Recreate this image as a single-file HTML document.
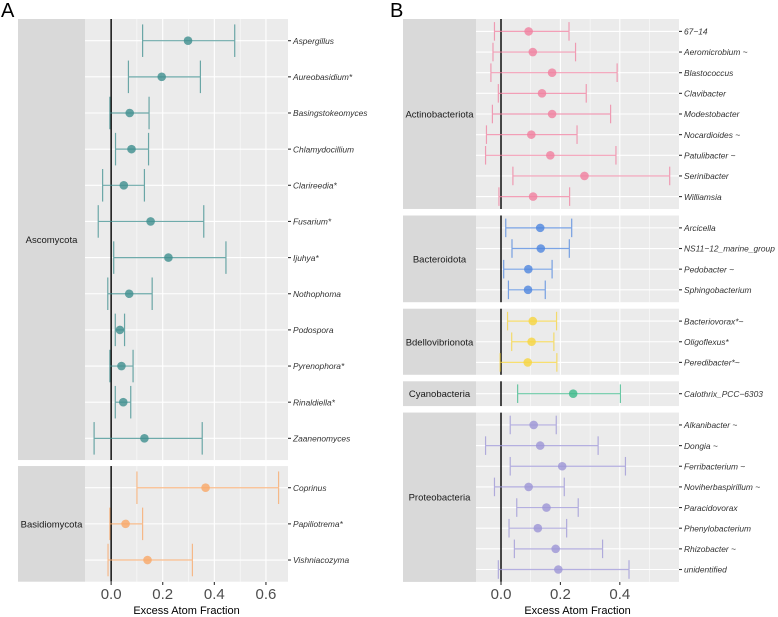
<!DOCTYPE html>
<html><head><meta charset="utf-8"><style>
body{margin:0;background:#fff;}
svg{display:block;font-family:"Liberation Sans",Arial,sans-serif;}
</style></head><body>
<svg id="chart" width="778" height="617" viewBox="0 0 778 617"></svg>
<script>
// Panel A data
const aGroups=["Ascomycota","Basidiomycota"];
const aGenera=[["Aspergillus","Aureobasidium*","Basingstokeomyces","Chlamydocillium","Clarireedia*","Fusarium*","Ijuhya*","Nothophoma","Podospora","Pyrenophora*","Rinaldiella*","Zaanenomyces"],["Coprinus","Papiliotrema*","Vishniacozyma"]];
const aMean=[[0.298,0.196,0.072,0.079,0.049,0.153,0.222,0.070,0.034,0.040,0.047,0.129],[0.366,0.056,0.141]];
const aLow=[[0.122,0.067,-0.005,0.017,-0.033,-0.050,0.010,-0.013,0.016,-0.005,0.016,-0.066],[0.100,-0.005,-0.012]];
const aHigh=[[0.479,0.346,0.147,0.145,0.129,0.359,0.445,0.159,0.052,0.085,0.076,0.353],[0.649,0.122,0.315]];
const aColors=["#3f8f8f","#f9a868"];
const aTicks=[0.0,0.2,0.4,0.6];
// Panel B data
const bGroups=["Actinobacteriota","Bacteroidota","Bdellovibrionota","Cyanobacteria","Proteobacteria"];
const bGenera=[["67\u221214","Aeromicrobium ~","Blastococcus","Clavibacter","Modestobacter","Nocardioides ~","Patulibacter ~","Serinibacter","Williamsia"],["Arcicella","NS11\u221212_marine_group","Pedobacter ~","Sphingobacterium"],["Bacteriovorax*~","Oligoflexus*","Peredibacter*~"],["Calothrix_PCC\u22126303"],["Alkanibacter ~","Dongia ~","Ferribacterium ~","Noviherbaspirillum ~","Paracidovorax","Phenylobacterium","Rhizobacter ~","unidentified"]];
const bMean=[[0.093,0.107,0.172,0.138,0.172,0.102,0.166,0.281,0.108],[0.132,0.134,0.092,0.091],[0.107,0.103,0.090],[0.243],[0.110,0.132,0.206,0.093,0.153,0.124,0.184,0.193]];
const bLow=[[-0.022,-0.027,-0.034,-0.009,-0.029,-0.049,-0.052,0.040,-0.007],[0.016,0.037,0.009,0.025],[0.022,0.036,-0.003],[0.056],[0.031,-0.052,0.031,-0.022,0.053,0.027,0.045,-0.009]];
const bHigh=[[0.229,0.251,0.391,0.287,0.369,0.256,0.387,0.568,0.231],[0.238,0.230,0.172,0.149],[0.187,0.178,0.188],[0.402],[0.186,0.327,0.419,0.213,0.260,0.221,0.342,0.431]];
const bColors=["#f0809f","#4f86de","#f6d53f","#3cb98a","#9c95d6"];
const bTicks=[0.0,0.2,0.4];

const NS="http://www.w3.org/2000/svg";
const svg=document.getElementById('chart');
function mk(tag,attrs,parent,text){const e=document.createElementNS(NS,tag);for(const k in attrs)e.setAttribute(k,attrs[k]);if(text!==undefined)e.textContent=text;(parent||svg).appendChild(e);return e;}

function panel(cfg){
  const sx=v=>cfg.x0+(v-cfg.xmin)/(cfg.xmax-cfg.xmin)*(cfg.x1-cfg.x0);
  let y=cfg.top;
  cfg.groups.forEach((g,gi)=>{
    const n=cfg.genera[gi].length;
    const h=(n-1+1.2)*cfg.unit;
    const grp=mk('g',{});
    
    
    const strip=mk('rect',{x:cfg.sx0,y:y,width:cfg.x0-cfg.sx0,height:h,fill:'#d9d9d9'},grp);
    
    
    const st=mk('text',{x:(cfg.sx0+cfg.x0)/2,y:y+h/2+3.5,'text-anchor':'middle','font-size':9.5,fill:'#1a1a1a'},grp,g);
    
    
    const bg=mk('rect',{x:cfg.x0,y:y,width:cfg.x1-cfg.x0,height:h,fill:'#ebebeb'},grp);
    
    
    for(let v=Math.ceil(cfg.xmin*10)/10;v<=cfg.xmax+1e-9;v+=0.1){
      const vv=Math.round(v*10)/10;
      const major=Math.abs(Math.round(vv*10)%2)===0;
      if(sx(vv)<=cfg.x0+0.5)continue;
      mk('line',{x1:sx(vv),x2:sx(vv),y1:y,y2:y+h,stroke:'#fff','stroke-width':major?1.1:0.5},grp);
    }
    const rowY=i=>y+(0.6+i)*cfg.unit;
    cfg.genera[gi].forEach((name,i)=>{
      mk('line',{x1:cfg.x0,x2:cfg.x1,y1:rowY(i),y2:rowY(i),stroke:'#fff','stroke-width':1.1},grp);
    });
    mk('line',{x1:sx(0),x2:sx(0),y1:y,y2:y+h,stroke:'#000','stroke-width':1.4},grp);
    const col=cfg.colors[gi];
    cfg.genera[gi].forEach((name,i)=>{
      const cy=rowY(i), cap=0.45*cfg.unit;
      const lo=sx(cfg.low[gi][i]),hi=sx(cfg.high[gi][i]),m=sx(cfg.mean[gi][i]);
      const eb=mk('g',{stroke:col,'stroke-width':1.2,opacity:0.75},grp);
      
      
      mk('line',{x1:lo,x2:hi,y1:cy,y2:cy},eb);
      mk('line',{x1:lo,x2:lo,y1:cy-cap,y2:cy+cap},eb);
      mk('line',{x1:hi,x2:hi,y1:cy-cap,y2:cy+cap},eb);
      const pt=mk('circle',{cx:m,cy:cy,r:4.3,fill:col,'fill-opacity':0.8},grp);
      
      
      mk('line',{x1:cfg.x1,x2:cfg.x1+3,y1:cy,y2:cy,stroke:'#333','stroke-width':1.1},grp);
      const lb=mk('text',{x:cfg.x1+5,y:cy+3.2,'font-size':8.4,'font-style':'italic',fill:'#333'},grp,name);
      
      
    });
    y+=h+cfg.gap;
  });
  const ax=mk('g',{});
  
  
  cfg.ticks.forEach(t=>{
    mk('line',{x1:sx(t),x2:sx(t),y1:cfg.bottom,y2:cfg.bottom+3,stroke:'#333','stroke-width':1.1},ax);
    const tl=mk('text',{x:sx(t),y:cfg.bottom+17,'text-anchor':'middle','font-size':15,fill:'#4d4d4d'},ax,t.toFixed(1));
    
    
  });
  const tt=mk('text',{x:(cfg.x0+cfg.x1)/2,y:614,'text-anchor':'middle','font-size':11,fill:'#000'},ax,'Excess Atom Fraction');
  
  
}
panel({groups:aGroups,genera:aGenera,mean:aMean,low:aLow,high:aHigh,colors:aColors,ticks:aTicks,
  sx0:18,x0:85,x1:288,xmin:-0.1013,xmax:0.6855,top:19,unit:36.15,gap:6,bottom:582});
panel({groups:bGroups,genera:bGenera,mean:bMean,low:bLow,high:bHigh,colors:bColors,ticks:bTicks,
  sx0:403,x0:476,x1:679,xmin:-0.0842,xmax:0.5993,top:19,unit:20.65,gap:6.5,bottom:582});
const la=mk('text',{x:1,y:17,'font-size':20,fill:'#000'},svg,'A');


const lb=mk('text',{x:390,y:17,'font-size':20,fill:'#000'},svg,'B');


</script>
</body></html>
